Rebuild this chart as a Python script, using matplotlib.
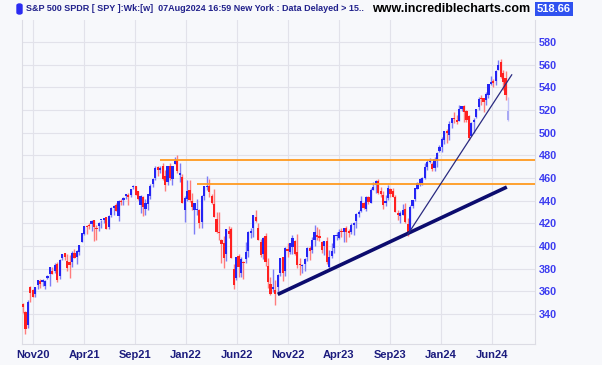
import matplotlib.pyplot as plt
from matplotlib.patches import FancyBboxPatch

# weekly SPY bars, week of 19 Oct 2020 to week of 5 Aug 2024
opens = [348.6, 342.1, 330.2, 364.0, 360.9, 357.3, 365.6, 369.0, 368.6, 364.9,
         371.7, 375.3, 377.9, 378.3, 383.7, 373.7, 389.3, 393.9, 387.1, 385.6,
         385.9, 393.4, 390.0, 394.4, 403.5, 410.9, 417.4, 417.8, 419.4, 422.5,
         415.4, 417.3, 422.6, 422.6, 425.3, 417.1, 427.2, 433.8, 436.0, 426.2,
         439.3, 440.3, 443.8, 445.2, 445.4, 452.1, 453.1, 448.6, 436.0, 442.8,
         433.0, 437.2, 443.9, 454.3, 460.3, 469.7, 467.2, 470.9, 462.1, 456.1,
         470.2, 458.8, 472.1, 476.3, 462.7, 461.2, 432.0, 441.2, 449.4, 439.9,
         431.9, 432.0, 431.6, 420.9, 444.3, 452.1, 453.1, 444.1, 436.8, 423.7,
         412.1, 405.1, 403.0, 392.8, 413.6, 414.8, 379.9, 371.9, 391.1, 376.2,
         385.9, 388.4, 395.8, 411.5, 415.5, 425.3, 416.0, 403.7, 393.1, 408.8,
         382.3, 366.4, 362.4, 361.0, 364.0, 375.9, 390.1, 377.7, 396.7, 394.6,
         399.1, 404.0, 395.1, 383.5, 382.0, 384.4, 390.4, 398.5, 396.7, 405.0,
         409.8, 408.7, 403.1, 399.9, 404.4, 381.8, 390.8, 398.1, 408.9, 406.6,
         412.4, 412.0, 415.5, 412.9, 412.2, 418.6, 422.0, 428.3, 430.9, 437.5,
         432.6, 442.9, 438.2, 449.1, 453.4, 457.4, 448.7, 444.7, 437.6, 442.2,
         450.7, 448.2, 443.1, 429.2, 426.6, 427.6, 432.8, 419.6, 413.6, 435.5,
         441.2, 450.5, 454.7, 455.6, 459.7, 470.0, 474.1, 472.2, 468.4, 475.3,
         484.0, 487.5, 493.7, 501.2, 497.7, 508.3, 512.0, 510.5, 510.5, 521.2,
         523.8, 519.2, 514.4, 497.2, 509.5, 513.8, 522.6, 529.6, 530.3, 529.0,
         533.2, 543.0, 544.3, 545.6, 555.4, 562.0, 553.0, 548.0, 511.6]
highs = [349.3, 343.0, 352.2, 364.4, 362.3, 364.2, 369.9, 371.1, 371.2, 370.0,
         374.7, 381.5, 381.1, 384.9, 385.9, 388.5, 392.9, 394.2, 393.0, 392.3,
         395.7, 397.0, 396.4, 400.7, 411.7, 417.9, 418.3, 420.7, 422.8, 423.2,
         418.2, 421.3, 422.9, 424.6, 425.5, 427.1, 434.1, 435.8, 437.9, 440.3,
         441.8, 442.9, 445.9, 447.1, 450.7, 454.1, 453.3, 448.9, 444.9, 444.1,
         441.7, 446.3, 454.7, 459.6, 470.7, 470.2, 470.5, 473.5, 466.6, 470.9,
         472.9, 470.9, 478.8, 480.0, 473.2, 463.5, 444.0, 458.1, 457.9, 446.6,
         438.0, 441.1, 433.0, 444.9, 453.0, 462.1, 458.8, 445.8, 450.0, 429.6,
         429.7, 406.4, 408.6, 415.4, 417.4, 416.6, 383.9, 390.1, 393.2, 390.6,
         386.9, 403.9, 413.0, 415.7, 427.2, 431.7, 420.0, 405.8, 407.5, 411.7,
         389.3, 372.3, 379.5, 370.3, 375.5, 389.5, 390.4, 399.4, 402.3, 402.9,
         410.0, 404.9, 410.5, 389.5, 384.4, 389.3, 399.1, 400.2, 408.2, 418.3,
         416.5, 415.1, 404.2, 404.5, 407.5, 396.5, 402.5, 409.7, 411.9, 415.1,
         415.7, 416.0, 417.6, 415.1, 420.7, 420.8, 428.7, 432.0, 443.9, 438.4,
         444.3, 444.1, 451.4, 456.4, 457.8, 459.4, 451.7, 448.1, 445.4, 453.7,
         451.1, 451.1, 445.0, 431.9, 431.1, 437.3, 438.1, 425.0, 436.3, 440.9,
         451.4, 456.4, 459.7, 461.0, 473.2, 475.9, 477.6, 474.0, 478.6, 482.7,
         488.8, 496.1, 501.7, 503.5, 510.1, 513.3, 518.2, 515.5, 524.1, 523.2,
         524.4, 520.0, 515.5, 509.0, 513.0, 521.0, 531.5, 533.1, 531.0, 536.0,
         543.0, 550.3, 547.0, 555.0, 564.0, 565.2, 555.0, 554.0, 531.3]
lows = [340.7, 322.6, 327.9, 350.5, 355.1, 354.9, 362.0, 363.3, 364.8, 362.0,
        370.8, 364.8, 375.0, 376.0, 368.3, 371.0, 387.5, 387.7, 378.0, 371.9,
        381.4, 389.0, 383.9, 392.0, 403.4, 410.0, 410.6, 415.0, 413.5, 404.0,
        405.3, 413.5, 416.3, 420.0, 414.7, 415.0, 425.6, 427.5, 430.9, 422.0,
        436.0, 436.1, 441.3, 436.1, 443.4, 450.7, 445.3, 441.0, 428.9, 426.4,
        427.2, 431.5, 441.6, 452.3, 458.2, 462.0, 464.0, 457.8, 448.9, 453.6,
        458.1, 454.0, 472.0, 464.7, 456.6, 437.8, 420.8, 439.8, 438.9, 432.0,
        410.6, 427.1, 415.8, 416.0, 440.7, 449.1, 443.5, 436.7, 425.4, 411.2,
        405.0, 385.2, 380.5, 387.0, 406.9, 389.8, 362.2, 370.2, 372.6, 372.9,
        371.0, 385.0, 390.0, 406.8, 408.0, 421.0, 405.3, 390.0, 388.4, 382.1,
        363.3, 357.0, 359.2, 348.1, 357.3, 373.1, 368.8, 373.6, 390.1, 392.7,
        393.3, 391.6, 381.0, 374.8, 376.4, 377.8, 386.3, 387.3, 393.6, 400.3,
        405.0, 404.1, 393.6, 392.3, 384.3, 380.7, 389.4, 393.7, 405.7, 406.0,
        408.2, 403.8, 403.7, 407.6, 410.2, 409.9, 416.2, 425.8, 430.2, 432.5,
        431.2, 437.1, 437.6, 449.1, 447.1, 446.3, 443.4, 433.0, 435.0, 441.0,
        442.8, 442.9, 430.0, 422.5, 420.2, 427.0, 420.7, 409.2, 411.6, 433.4,
        439.4, 450.0, 453.2, 454.2, 459.5, 467.0, 473.3, 466.4, 466.5, 469.5,
        483.0, 482.9, 490.0, 491.0, 493.6, 504.5, 508.5, 508.0, 510.0, 519.0,
        509.0, 509.5, 493.9, 497.0, 499.5, 512.9, 519.7, 524.7, 518.2, 524.0,
        531.0, 542.0, 540.4, 542.0, 555.0, 548.5, 537.5, 529.0, 510.3]
closes = [345.8, 326.5, 350.2, 358.1, 355.3, 363.7, 369.9, 366.3, 369.2, 369.0,
          373.9, 381.3, 375.7, 382.9, 370.1, 387.7, 392.6, 390.0, 380.4, 383.6,
          394.1, 389.5, 396.0, 400.6, 411.5, 417.3, 416.7, 417.3, 422.1, 416.6,
          414.9, 420.0, 422.6, 424.3, 414.9, 426.6, 433.7, 435.5, 431.3, 439.9,
          438.5, 442.5, 445.9, 443.4, 450.3, 453.1, 445.4, 441.4, 443.9, 434.2,
          437.9, 445.9, 453.1, 459.3, 468.5, 467.3, 468.9, 459.0, 453.4, 470.7,
          459.9, 470.6, 475.0, 466.1, 464.7, 438.0, 442.0, 448.7, 440.5, 434.2,
          437.8, 432.2, 420.1, 444.5, 452.7, 452.9, 447.6, 437.8, 426.0, 412.0,
          411.3, 401.7, 389.6, 415.3, 410.5, 389.8, 365.9, 390.1, 381.2, 388.7,
          385.1, 395.1, 412.0, 413.5, 427.1, 422.1, 405.3, 392.2, 406.6, 385.6,
          368.0, 357.2, 362.8, 357.6, 374.3, 389.0, 376.4, 398.5, 396.0, 402.3,
          406.9, 393.3, 383.3, 382.9, 382.4, 388.1, 398.5, 395.9, 405.7, 412.4,
          408.0, 407.3, 396.4, 404.2, 385.9, 390.0, 395.8, 409.4, 409.2, 412.5,
          412.2, 415.9, 412.6, 411.6, 418.6, 420.0, 427.9, 429.9, 439.5, 433.2,
          443.3, 438.6, 449.3, 452.2, 456.9, 446.8, 445.7, 436.5, 440.0, 451.2,
          445.5, 443.4, 430.4, 427.5, 429.5, 431.5, 421.2, 410.7, 434.7, 440.6,
          450.8, 455.3, 459.1, 460.2, 469.3, 473.7, 475.3, 467.9, 476.7, 482.4,
          487.4, 494.4, 501.2, 499.5, 507.9, 512.9, 511.7, 509.8, 521.2, 523.1,
          518.4, 510.9, 495.2, 508.3, 511.3, 520.8, 529.5, 529.4, 527.4, 534.0,
          542.8, 544.5, 544.2, 554.6, 560.0, 549.0, 544.4, 532.9, 518.7]

month_labels = ["Nov20", "Apr21", "Sep21", "Jan22", "Jun22",
                "Nov22", "Apr23", "Sep23", "Jan24", "Jun24"]
price_ticks = [340, 360, 380, 400, 420, 440, 460, 480, 500, 520, 540, 560, 580]

# drawn lines: (week index, price) end points
support_line = [(104, 357.3), (197.5, 452.0)]
steep_line = [(157, 410.0), (199.5, 551.0)]
resist_levels = [(56, 476.0), (71, 455.0)]
last_price = "518.66"

W, H = 602, 365
bg = "#f7f8fb"
fig = plt.figure(figsize=(W / 100, H / 100), dpi=100, facecolor=bg)
ax = fig.add_axes([22 / W, 21 / H, (535 - 22) / W, (345 - 21) / H], facecolor=bg)

n = len(closes)
xs = list(range(n))
up_c, dn_c = "#2424f4", "#ff2020"
up_w, dn_w = "#7c7cf6", "#ff7c7c"
for i in xs:
    o, h, l, c = opens[i], highs[i], lows[i], closes[i]
    up = c >= o
    body = up_c if up else dn_c
    wick = up_w if up else dn_w
    if i == n - 1:
        body, wick = "#a8a8f4", "#c4c4f8"
    ax.vlines(i, l, h, color=wick, lw=1.0, zorder=3)
    ax.bar(i, max(abs(c - o), 1.0), bottom=min(o, c), width=0.9,
           color=body, lw=0, zorder=4)

for lvl_x, lvl in resist_levels:
    ax.hlines(lvl, lvl_x, 209, color="#ff9a1f", lw=1.3, zorder=5)

(x0, y0), (x1, y1) = support_line
ax.plot([x0, x1], [y0, y1], color="#0c0c6e", lw=2.6, solid_capstyle="butt", zorder=6)
(x0, y0), (x1, y1) = steep_line
ax.plot([x0, x1], [y0, y1], color="#2a2a80", lw=0.9, zorder=6)

ax.set_xlim(-0.4, 209)
ax.set_ylim(313.5, 599.4)

tick_pos = [4.1 + 20.8 * k for k in range(len(month_labels))]
ax.set_xticks(tick_pos)
ax.set_xticklabels(month_labels)
ax.set_yticks(price_ticks)
ax.yaxis.tick_right()
ax.tick_params(axis="x", length=0, pad=4, labelsize=8, labelcolor="#1c1c7e")
ax.tick_params(axis="y", length=0, pad=3, labelsize=7.8, labelcolor="#3c3cf0")
for lab in ax.get_xticklabels() + ax.get_yticklabels():
    lab.set_fontweight("bold")
    lab.set_family("Liberation Sans")

ax.grid(True, color="#e2e2ea", lw=0.8, zorder=0)
for side in ["left", "right", "bottom"]:
    ax.spines[side].set_color("#dcdce4")
    ax.spines[side].set_linewidth(0.8)
ax.spines["top"].set_visible(False)

# header
fig.patches.append(FancyBboxPatch((17 / W, (H - 14) / H), 5 / W, 10 / H,
                                  boxstyle="round,pad=0,rounding_size=0.004",
                                  transform=fig.transFigure, color="#2b2bf2"))
fig.text(26 / W, 1 - 8.5 / H,
         "S&P 500 SPDR [ SPY ]:Wk:[w]  07Aug2024 16:59 New York : Data Delayed > 15..",
         fontsize=6.5, fontweight="bold", color="#22228c", va="center",
         family="Liberation Sans")
fig.text(372 / W, 1 - 8.5 / H, "www.incrediblecharts.com", fontsize=9,
         fontweight="bold", color="black", va="center", family="Liberation Sans")
fig.text(537 / W, 1 - 9 / H, last_price, fontsize=8, fontweight="bold",
         color="white", va="center", family="Liberation Sans",
         bbox=dict(boxstyle="square,pad=0.15", fc="#3052f0", ec="none"))

fig.savefig("out.png", dpi=100, facecolor=bg)
